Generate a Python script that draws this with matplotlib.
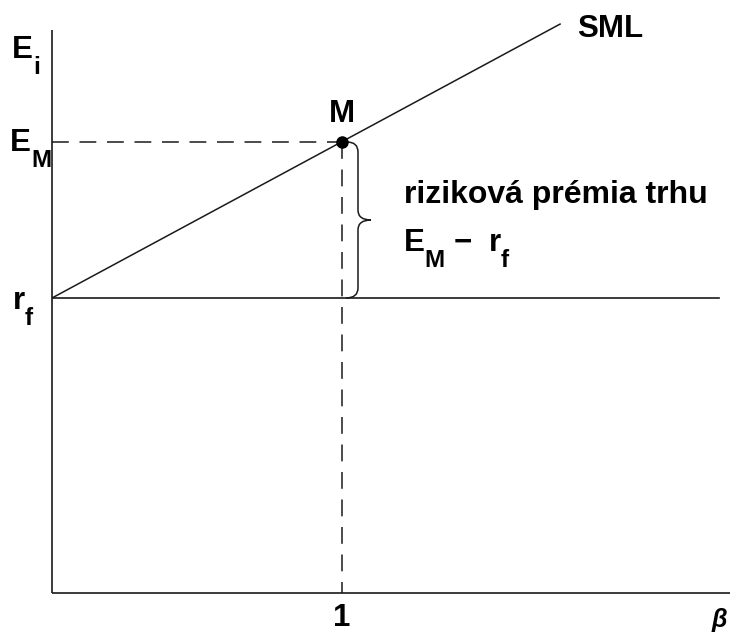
import matplotlib
matplotlib.use("Agg")
import matplotlib.pyplot as plt
from matplotlib.path import Path
from matplotlib.patches import PathPatch

# data
rf = 5.0          # risk-free rate level
EM = 7.65         # expected market return
beta_M = 1.0      # market beta
beta_max = 2.338
sml_end = 1.752   # beta where SML line stops
rf_line_end = 2.30
y_top = 9.54
x_tick_labels = ["1"]

W, H = 730, 636
fig = plt.figure(figsize=(W / 100, H / 100), dpi=100)
ax = fig.add_axes([52 / W, (H - 593) / H, 678 / W, 593 / H])
ax.set_xlim(0, beta_max)
ax.set_ylim(0, 593 / 59)
ax.axis("off")

lc = "#1a1a1a"
font = "Liberation Sans"

# axes
ax.plot([0, 0], [0, y_top], color=lc, lw=1.2, solid_capstyle="butt", clip_on=False)
ax.plot([0, beta_max], [0, 0], color=lc, lw=1.2, solid_capstyle="butt", clip_on=False)

# rf horizontal line
ax.plot([0, rf_line_end], [rf, rf], color=lc, lw=1.2)

# SML
slope = (EM - rf) / beta_M
ax.plot([0, sml_end], [rf, rf + slope * sml_end], color=lc, lw=1.1)

# dashed guides
ax.plot([0, beta_M], [EM, EM], color=lc, lw=1.1, dashes=(11, 7))
ax.plot([beta_M, beta_M], [EM, 0], color=lc, lw=1.1, dashes=(11, 7))

# market point
ax.plot([beta_M], [EM], "o", color="black", ms=8, zorder=5)


def px(x, y):
    return ((x - 52) / 290, (593 - y) / 59)


# brace
verts = [px(347, 142), px(358, 142), px(358, 152),
         px(358, 210),
         px(358, 220), px(371, 220),
         px(358, 220), px(358, 230),
         px(358, 288),
         px(358, 298), px(346, 298)]
codes = [Path.MOVETO, Path.CURVE3, Path.CURVE3,
         Path.LINETO,
         Path.CURVE3, Path.CURVE3,
         Path.CURVE3, Path.CURVE3,
         Path.LINETO,
         Path.CURVE3, Path.CURVE3]
ax.add_patch(PathPatch(Path(verts, codes), fill=False, lw=1.1, edgecolor=lc))

fs = 22.5
sfs = 17.5
kw = dict(fontfamily=font, fontweight="bold", color="black")


def sub_label(x, y, main, sub, dx=0.5, dy=-6.5):
    t = ax.text(*px(x, y), main, fontsize=fs, va="baseline", ha="left",
                clip_on=False, **kw)
    ax.annotate(sub, xy=(1, 0), xycoords=t, xytext=(dx, dy),
                textcoords="offset points", fontsize=sfs, va="baseline",
                ha="left", **kw)
    return t


sub_label(12, 58, "E", "i")
sub_label(10, 151, "E", "M", dx=0)
sub_label(13, 309, "r", "f", dx=-0.5)

ax.text(beta_M, (593 - 122) / 59, "M", fontsize=fs, va="baseline", ha="center", **kw)
ax.text(*px(577, 37), "SML", fontsize=fs, va="baseline", **kw)
ax.text(*px(404, 203), "riziková prémia trhu", fontsize=fs + 0.5, va="baseline", **kw)
sub_label(404, 251, "E", "M", dx=0)
ax.text(*px(454, 251), "\u2212", fontsize=fs, va="baseline", **kw)
sub_label(489, 251, "r", "f", dx=-0.5)

ax.text(beta_M, (593 - 626) / 59, x_tick_labels[0], fontsize=fs, va="baseline",
        ha="center", clip_on=False, **kw)
ax.text(*px(727, 627), "\u03b2", fontsize=18, va="baseline", ha="right",
        style="italic", clip_on=False, **kw)

fig.savefig("out.png", dpi=100)
